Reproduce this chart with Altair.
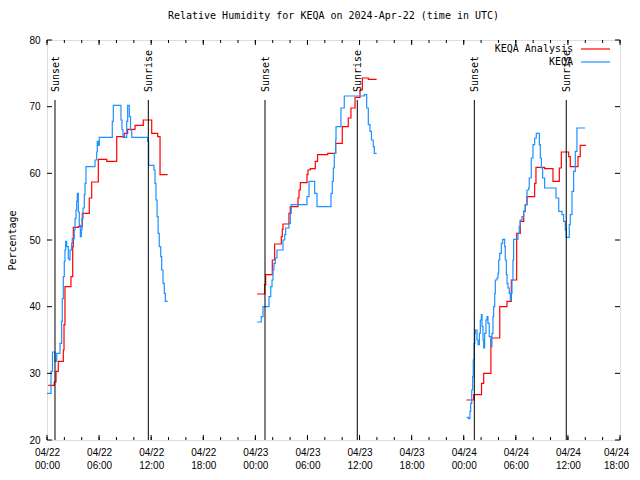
import altair as alt
import pandas as pd

MONO = "DejaVu Sans Mono"
RED = "#ff0000"
BLUE = "#1e90ff"

TITLE = "Relative Humidity for KEQA on 2024-Apr-22 (time in UTC)"
START = "2024-04-22T00:00:00"

# (hours since 04/22 00:00 UTC, relative humidity %)
analysis_seg1 = [(0.15, 28.2), (0.84, 28.7), (1.04, 30.3), (1.30, 31.8), (1.88, 33.5),
                 (1.96, 37.3), (2.07, 43.0), (2.76, 44.5), (2.96, 49.0), (3.03, 51.9),
                 (3.61, 52.0), (4.07, 54.0), (4.87, 56.3), (5.15, 58.7), (5.91, 62.1),
                 (6.88, 61.8), (8.03, 65.5), (8.90, 66.0), (9.29, 66.6), (10.14, 67.2),
                 (11.09, 68.0), (12.06, 66.0), (12.75, 65.5), (13.02, 59.8), (13.90, 59.8)]
analysis_seg2 = [(24.19, 41.9), (25.07, 43.3), (25.19, 44.8), (25.95, 47.0), (26.22, 49.4),
                 (26.99, 50.5), (27.10, 51.6), (27.18, 52.4), (27.87, 54.0), (28.02, 55.0),
                 (28.91, 56.3), (29.03, 57.5), (29.18, 58.6), (29.95, 59.8), (30.06, 60.5),
                 (30.33, 60.7), (30.90, 61.8), (31.16, 62.8), (32.33, 63.0), (33.25, 64.5),
                 (34.01, 67.0), (34.70, 68.3), (35.01, 69.8), (35.48, 71.4), (36.05, 72.5),
                 (36.32, 74.3), (37.01, 74.1), (37.97, 74.1)]
analysis_seg3 = [(48.31, 26.0), (49.15, 26.8), (50.05, 28.5), (50.30, 30.0), (51.13, 35.3),
                 (52.15, 40.0), (52.98, 40.8), (53.48, 44.0), (54.10, 51.0), (54.51, 52.8),
                 (54.91, 54.3), (55.09, 55.3), (55.29, 56.5), (56.17, 58.5), (56.32, 60.9),
                 (57.32, 60.7), (58.28, 58.8), (59.01, 60.8), (59.24, 63.2), (60.09, 62.5),
                 (60.27, 61.0), (61.16, 62.5), (61.42, 64.2), (62.08, 64.2)]

keqa_seg1 = [(0.00, 27.0), (0.46, 30.3), (0.63, 33.2), (0.92, 31.8), (1.12, 33.0),
             (1.50, 34.5), (1.69, 37.8), (1.76, 41.2), (1.88, 44.5), (1.99, 46.8),
             (2.07, 48.5), (2.15, 49.8), (2.27, 49.0), (2.45, 47.2), (2.57, 47.0),
             (2.65, 48.5), (2.84, 49.5), (2.91, 50.2), (3.14, 51.5), (3.23, 53.2),
             (3.34, 54.5), (3.42, 55.8), (3.49, 57.0), (3.61, 54.2), (3.72, 52.2),
             (3.84, 50.5), (3.95, 51.5), (4.03, 53.2), (4.15, 54.8), (4.30, 56.8),
             (4.38, 58.5), (4.49, 61.0), (5.53, 62.0), (5.72, 63.2), (5.79, 64.8),
             (5.91, 64.2), (6.02, 65.4), (7.52, 67.8), (7.64, 70.2), (8.52, 68.0),
             (8.64, 66.5), (8.75, 65.4), (9.18, 67.8), (9.29, 70.2), (9.48, 68.5),
             (9.62, 66.5), (9.76, 65.4), (11.60, 64.8), (11.71, 61.2), (12.32, 60.5),
             (12.44, 58.5), (12.55, 56.0), (12.68, 53.5), (12.80, 51.0), (12.93, 49.0),
             (13.10, 47.5), (13.21, 45.5), (13.36, 43.5), (13.51, 42.0), (13.63, 40.8),
             (13.90, 40.8)]
keqa_seg2 = [(24.19, 37.7), (24.68, 38.5), (24.88, 40.0), (25.57, 41.5), (25.77, 43.0),
             (25.92, 44.0), (26.03, 45.5), (26.14, 46.5), (26.29, 47.3), (26.49, 48.5),
             (27.18, 50.0), (27.38, 50.8), (27.49, 51.8), (27.87, 52.5), (28.02, 54.0),
             (28.14, 55.3), (29.95, 56.5), (30.18, 58.8), (30.83, 57.0), (31.10, 55.0),
             (32.71, 57.0), (32.86, 58.8), (32.98, 60.8), (33.09, 63.0), (33.25, 65.0),
             (33.29, 67.0), (33.86, 69.8), (34.24, 71.6), (36.55, 71.8), (36.82, 69.8),
             (37.01, 67.3), (37.20, 66.3), (37.37, 65.0), (37.58, 64.0), (37.70, 63.0),
             (37.97, 63.0)]
keqa_seg3 = [(48.34, 23.4), (48.54, 23.2), (48.72, 24.3), (48.80, 25.5), (48.92, 27.5),
             (49.03, 29.5), (49.10, 32.0), (49.19, 34.5), (49.27, 36.0), (49.34, 36.5),
             (49.53, 35.0), (49.65, 34.3), (49.80, 36.0), (49.91, 38.0), (50.03, 38.8),
             (50.11, 37.0), (50.22, 35.0), (50.30, 33.8), (50.41, 36.0), (50.56, 38.0),
             (50.68, 38.5), (50.79, 37.5), (50.94, 35.5), (51.17, 34.0), (51.25, 36.0),
             (51.37, 38.5), (51.45, 40.0), (51.57, 42.0), (51.64, 44.0), (51.83, 44.3),
             (51.95, 45.0), (52.03, 47.0), (52.14, 48.0), (52.33, 49.5), (52.49, 50.1),
             (52.72, 49.0), (52.79, 47.0), (52.91, 44.8), (52.99, 43.5), (53.10, 42.8),
             (53.25, 42.0), (53.37, 41.0), (53.48, 42.0), (53.56, 44.0), (53.67, 47.0),
             (53.75, 50.1), (54.25, 51.0), (54.39, 52.0), (54.51, 53.0), (54.71, 53.5),
             (54.91, 54.3), (55.09, 55.3), (55.29, 57.5), (55.48, 57.8), (55.55, 59.3),
             (55.78, 62.3), (55.98, 64.3), (56.17, 65.3), (56.36, 66.0), (56.71, 64.3),
             (56.82, 62.3), (56.94, 60.8), (57.09, 59.3), (57.32, 57.8), (58.63, 56.3),
             (58.94, 54.3), (59.32, 53.8), (59.51, 52.8), (59.70, 51.5), (59.81, 50.4),
             (60.16, 52.3), (60.27, 53.8), (60.47, 57.3), (60.66, 60.3), (60.85, 63.3),
             (61.04, 66.8), (61.99, 66.8)]

sunset_hours = [0.92, 25.11, 49.22]
sunrise_hours = [11.67, 35.74, 59.81]

major_tick_hours = list(range(0, 67, 6))
minor_tick_hours = list(range(0, 67, 2))
x_domain_hours = [0, 66]
y_ticks = [20, 30, 40, 50, 60, 70, 80]
y_domain = [20, 80]

legend_labels = ["KEQA Analysis", "KEQA"]
legend_colors = [RED, BLUE]

W, H = 573, 400

start = pd.Timestamp(START)


def iso(h):
    return (start + pd.Timedelta(hours=h)).strftime("%Y-%m-%dT%H:%M:%SZ")


def dt(h):
    ts = start + pd.Timedelta(hours=h)
    return alt.DateTime(year=ts.year, month=ts.month, date=ts.day,
                        hours=ts.hour, minutes=ts.minute, utc=True)


def frame(segs):
    rows = []
    for i, seg in enumerate(segs):
        for h, v in seg:
            rows.append({"t": iso(h), "v": v, "seg": i})
    return pd.DataFrame(rows)


ana_df = frame([analysis_seg1, analysis_seg2, analysis_seg3])
obs_df = frame([keqa_seg1, keqa_seg2, keqa_seg3])

sun_df = pd.DataFrame(
    [{"t": iso(h), "label": "Sunset"} for h in sunset_hours]
    + [{"t": iso(h), "label": "Sunrise"} for h in sunrise_hours])
major_df = pd.DataFrame({"t": [iso(h) for h in major_tick_hours]})
minor_df = pd.DataFrame({"t": [iso(h) for h in minor_tick_hours]})
ytick_df = pd.DataFrame({"v": y_ticks})

xscale = alt.Scale(type="utc", domain=[dt(x_domain_hours[0]), dt(x_domain_hours[1])], nice=False)
xaxis = alt.Axis(values=[dt(h) for h in major_tick_hours],
                 labelExpr="[utcFormat(datum.value, '%m/%d'), utcFormat(datum.value, '%H:%M')]",
                 ticks=False, tickSize=0, domain=False, grid=False, title=None,
                 labelFlush=False, labelOverlap=False, labelPadding=7,
                 labelLineHeight=13, labelBaseline="top",
                 labelOffset={"expr": "datum.index > 0.99 ? -4 : 0"})
yscale = alt.Scale(domain=y_domain, nice=False, zero=False)
yaxis = alt.Axis(values=y_ticks, ticks=False, tickSize=0, domain=False, grid=False,
                 title="Percentage", labelPadding=7, titleX=-35, titleY=H / 2,
                 titleAngle=270, titleAlign="center", titleBaseline="middle",
                 titleFontWeight="normal", titleFont=MONO, titleFontSize=10)


def X(field="t"):
    return alt.X(f"{field}:T", scale=xscale, axis=xaxis)


def Y(field="v"):
    return alt.Y(f"{field}:Q", scale=yscale, axis=yaxis)


red = alt.Chart(ana_df).mark_line(interpolate="step-after", color=RED, strokeWidth=1.2).encode(
    x=X(), y=Y(), detail="seg:N")
blue = alt.Chart(obs_df).mark_line(interpolate="step-after", color=BLUE, strokeWidth=1.2).encode(
    x=X(), y=Y(), detail="seg:N")

sun_rules = alt.Chart(sun_df).mark_rule(color="black", strokeWidth=1).encode(
    x=X(), y=alt.value(60), y2=alt.value(H))
sun_text = alt.Chart(sun_df).mark_text(angle=270, align="left", baseline="middle",
                                        font=MONO, fontSize=10, color="black", dy=1).encode(
    x=X(), y=alt.value(52), text="label:N")

tick_layers = [
    alt.Chart(major_df).mark_rule(color="black").encode(x=X(), y=alt.value(H), y2=alt.value(H - 5)),
    alt.Chart(major_df).mark_rule(color="black").encode(x=X(), y=alt.value(0), y2=alt.value(5)),
    alt.Chart(minor_df).mark_rule(color="black").encode(x=X(), y=alt.value(H), y2=alt.value(H - 3)),
    alt.Chart(minor_df).mark_rule(color="black").encode(x=X(), y=alt.value(0), y2=alt.value(3)),
    alt.Chart(ytick_df).mark_rule(color="black").encode(y=Y(), x=alt.value(0), x2=alt.value(5)),
    alt.Chart(ytick_df).mark_rule(color="black").encode(y=Y(), x=alt.value(W), x2=alt.value(W - 5)),
]

legend_layers = []
for i, (lab, col) in enumerate(zip(legend_labels, legend_colors)):
    yy = 9 + 13 * i
    ldf = pd.DataFrame({"label": [lab]})
    legend_layers.append(alt.Chart(ldf).mark_text(align="right", baseline="middle", font=MONO,
                                                  fontSize=10, color="black").encode(
        x=alt.value(526), y=alt.value(yy), text="label:N"))
    legend_layers.append(alt.Chart(ldf).mark_rule(color=col, strokeWidth=1.2).encode(
        x=alt.value(534), x2=alt.value(563), y=alt.value(yy)))

chart = alt.layer(red, blue, sun_rules, sun_text, *tick_layers, *legend_layers).properties(
    width=W, height=H,
    title=alt.TitleParams(TITLE, font=MONO, fontSize=10, fontWeight="normal", color="black",
                          anchor="middle", offset=14),
    autosize=alt.AutoSizeParams(type="none"),
    padding={"left": 39, "top": 32, "right": 12, "bottom": 30},
).configure_view(stroke="black", strokeWidth=1).configure_axis(
    labelFont=MONO, titleFont=MONO, labelFontSize=10, titleFontSize=10,
    labelColor="black", titleColor="black", titleFontWeight="normal"
).configure(background="white")

chart.save("out.html", embed_options={"renderer": "svg", "actions": False})
